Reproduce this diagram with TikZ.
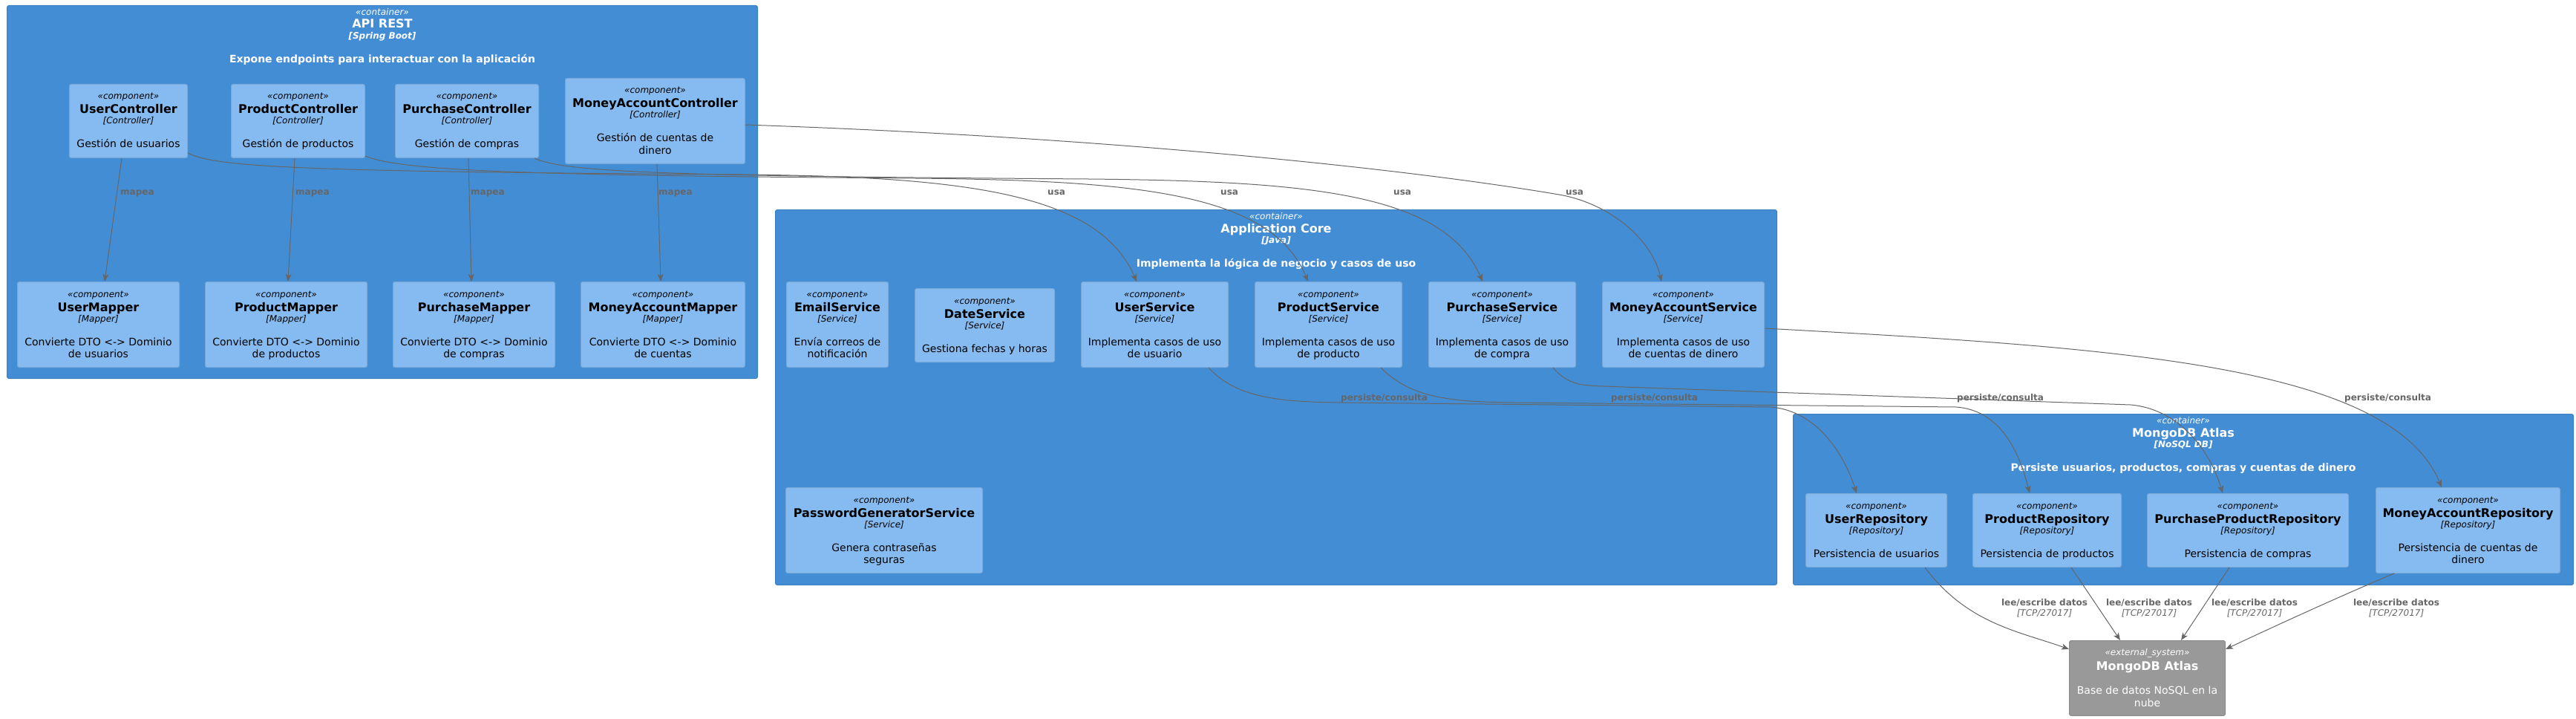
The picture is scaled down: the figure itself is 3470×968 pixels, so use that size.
\documentclass[tikz,border=0pt]{standalone}
\usepackage{fontspec}
\setmainfont{DejaVu Sans}
\usetikzlibrary{arrows.meta,calc}
\definecolor{contfill}{HTML}{438DD5}
\definecolor{contdraw}{HTML}{3C7FC0}
\definecolor{compfill}{HTML}{85BBF0}
\definecolor{compdraw}{HTML}{78A8D8}
\definecolor{extfill}{HTML}{999999}
\definecolor{extdraw}{HTML}{8A8A8A}
\definecolor{relc}{HTML}{666666}
\tikzset{
 box/.style={draw, rounded corners=2.5pt, inner sep=0pt, anchor=north west, line width=1pt},
 contbox/.style={box, fill=contfill, draw=contdraw},
 compbox/.style={box, fill=compfill, draw=compdraw},
 extbox/.style={box, fill=extfill, draw=extdraw},
 txt/.style={inner sep=0pt, anchor=base},
 fstereo/.style={txt, font=\fontsize{12}{14}\selectfont\itshape},
 fname/.style={txt, font=\fontsize{16}{19}\selectfont\bfseries},
 ftech/.style={txt, font=\fontsize{12}{14}\selectfont\itshape},
 fdesc/.style={txt, font=\fontsize{14}{16}\selectfont},
 cstereo/.style={fstereo, text=white},
 cname/.style={fname, text=white},
 ctech/.style={txt, font=\fontsize{12}{14}\selectfont\bfseries\itshape, text=white},
 cdesc/.style={txt, font=\fontsize{14}{16}\selectfont\bfseries, text=white},
 rel/.style={draw=relc, line width=1pt, -{Stealth[length=10pt,width=8pt,inset=2.5pt]}},
 rlabel/.style={txt, text=relc, font=\fontsize{12}{14}\selectfont\bfseries},
 rtech/.style={txt, text=relc, font=\fontsize{12}{14}\selectfont\itshape},
}
% name, x, y, w, h, title, tech, desc1, desc2
\newcommand\compo[9]{%
 \node[compbox, minimum width=#4pt, minimum height=#5pt] (#1) at (#2,#3) {};
 \node[fstereo] (#1s) at ($(#1.north)+(0,21)$) {«component»};
 \node[fname] (#1n) at ($(#1.north)+(0,40)$) {#6};
 \node[ftech] (#1t) at ($(#1.north)+(0,54)$) {[#7]};
 \node[fdesc] (#1d) at ($(#1.north)+(0,86)$) {#8};
 \if\relax\detokenize{#9}\relax\else
 \node[fdesc] (#1e) at ($(#1.north)+(0,102.5)$) {#9};\fi
}
% name, x, y, w, h, title, tech, desc
\newcommand\contr[8]{%
 \node[contbox, minimum width=#4pt, minimum height=#5pt] (#1) at (#2,#3) {};
 \node[cstereo] (#1s) at ($(#1.north)+(0,13.5)$) {«container»};
 \node[cname] (#1n) at ($(#1.north)+(0,31)$) {#6};
 \node[ctech] (#1t) at ($(#1.north)+(0,45.5)$) {[#7]};
 \node[cdesc] (#1d) at ($(#1.north)+(0,77.5)$) {#8};
}
\begin{document}
\begin{tikzpicture}[x=1pt,y=-1pt]
\useasboundingbox (0,0) rectangle (3470,968);
% containers
\contr{api}{9}{7}{1011}{502}{API REST}{Spring Boot}{Expone endpoints para interactuar con la aplicación}
\contr{core}{1044}{282}{1349}{505}{Application Core}{Java}{Implementa la lógica de negocio y casos de uso}
\contr{mongo}{2415}{557}{1051}{230}{MongoDB Atlas}{NoSQL DB}{Persiste usuarios, productos, compras y cuentas de dinero}
% controllers
\compo{uc}{93}{113}{159}{99}{UserController}{Controller}{Gestión de usuarios}{}
\compo{pc}{311}{113}{180}{99}{ProductController}{Controller}{Gestión de productos}{}
\compo{puc}{532}{113}{193}{99}{PurchaseController}{Controller}{Gestión de compras}{}
\compo{mac}{761}{105}{242}{115}{MoneyAccountController}{Controller}{Gestión de cuentas de}{dinero}
% mappers
\compo{um}{23}{379}{218}{115}{UserMapper}{Mapper}{Convierte DTO <-> Dominio}{de usuarios}
\compo{pm}{276}{379}{218}{115}{ProductMapper}{Mapper}{Convierte DTO <-> Dominio}{de productos}
\compo{pum}{529}{379}{218}{115}{PurchaseMapper}{Mapper}{Convierte DTO <-> Dominio}{de compras}
\compo{mam}{782}{379}{221}{115}{MoneyAccountMapper}{Mapper}{Convierte DTO <-> Dominio}{de cuentas}
% services
\compo{es}{1059}{379}{137}{115}{EmailService}{Service}{Envía correos de}{notificación}
\compo{ds}{1232}{388}{188}{99}{DateService}{Service}{Gestiona fechas y horas}{}
\compo{us}{1456}{379}{198}{115}{UserService}{Service}{Implementa casos de uso}{de usuario}
\compo{ps}{1690}{379}{198}{115}{ProductService}{Service}{Implementa casos de uso}{de producto}
\compo{pus}{1924}{379}{198}{115}{PurchaseService}{Service}{Implementa casos de uso}{de compra}
\compo{mas}{2158}{379}{218}{115}{MoneyAccountService}{Service}{Implementa casos de uso}{de cuentas de dinero}
\compo{pgs}{1058}{656}{265}{115}{PasswordGeneratorService}{Service}{Genera contraseñas}{seguras}
% repositories
\compo{ur}{2432}{664}{190}{99}{UserRepository}{Repository}{Persistencia de usuarios}{}
\compo{pr}{2657}{664}{200}{99}{ProductRepository}{Repository}{Persistencia de productos}{}
\compo{ppr}{2892}{664}{271}{99}{PurchaseProductRepository}{Repository}{Persistencia de compras}{}
\compo{mar}{3200}{656}{248}{115}{MoneyAccountRepository}{Repository}{Persistencia de cuentas de}{dinero}
% external system
\node[extbox, minimum width=210pt, minimum height=101pt] (mdb) at (2787,862) {};
\node[cstereo] (mdbs) at ($(mdb.north)+(0,20)$) {«external\_system»};
\node[cname] (mdbn) at ($(mdb.north)+(0,40)$) {MongoDB Atlas};
\node[fdesc, text=white] (mdbd) at ($(mdb.north)+(0,72)$) {Base de datos NoSQL en la};
\node[fdesc, text=white] (mdbe) at ($(mdb.north)+(0,89)$) {nube};
% mapea
\draw[rel] ($(uc.south west)+(71,0)$) -- ($(um.north west)+(118,0)$);
\draw[rel] ($(pc.south west)+(86,0)$) -- ($(pm.north west)+(112,0)$);
\draw[rel] ($(puc.south west)+(99,0)$) -- ($(pum.north west)+(106,0)$);
\draw[rel] ($(mac.south west)+(124,0)$) -- ($(mam.north west)+(108,0)$);
\node[rlabel, anchor=base west] (lm1) at (162,263) {mapea};
\node[rlabel, anchor=base west] (lm2) at (398,263) {mapea};
\node[rlabel, anchor=base west] (lm3) at (634,263) {mapea};
\node[rlabel, anchor=base west] (lm4) at (887,263) {mapea};
% usa
\draw[rel] ($(uc.north east)+(0,93)$) .. controls (290,225) and (400,231) .. (1000,235) .. controls (1300,238) and (1480,260) .. ($(us.north west)+(75,0)$);
\draw[rel] ($(pc.south east)+(0,-3)$) .. controls (540,230) and (700,236) .. (1233,240) .. controls (1533,243) and (1713,260) .. ($(ps.north west)+(72,0)$);
\draw[rel] ($(puc.south east)+(-6,0)$) .. controls (760,232) and (900,237) .. (1466,241) .. controls (1766,244) and (1946,260) .. ($(pus.north west)+(73,0)$);
\draw[rel] ($(mac.north east)+(0,63)$) .. controls (1500,185) and (1900,228) .. (2100,262) .. controls (2165,273) and (2225,320) .. ($(mas.north west)+(80,0)$);
\node[rlabel, anchor=base west] (lu1) at (1411,263) {usa};
\node[rlabel, anchor=base west] (lu2) at (1644,263) {usa};
\node[rlabel, anchor=base west] (lu3) at (1877,263) {usa};
\node[rlabel, anchor=base west] (lu4) at (2109,263) {usa};
% persiste/consulta
\draw[rel] ($(us.south west)+(172,0)$) .. controls (1665,535) and (1720,541) .. (1806,542) -- (2385,548) .. controls (2440,552) and (2480,600) .. ($(ur.north west)+(69,0)$);
\draw[rel] ($(ps.south west)+(170,0)$) .. controls (1900,535) and (1950,541) .. (2040,542) -- (2635,548) .. controls (2690,552) and (2718,600) .. ($(pr.north west)+(77,0)$);
\draw[rel] ($(pus.south west)+(168,0)$) .. controls (2112,518) and (2130,519) .. (2160,520) -- (2870,545) .. controls (2930,550) and (2975,600) .. ($(ppr.north west)+(102,0)$);
\draw[rel] ($(mas.north east)+(0,63)$) .. controls (2850,468) and (3220,490) .. ($(mar.north west)+(89,0)$);
\node[rlabel, anchor=base west] (lp1) at (1806,539) {persiste/consulta};
\node[rlabel, anchor=base west] (lp2) at (2170,539) {persiste/consulta};
\node[rlabel, anchor=base west] (lp3) at (2636,539) {persiste/consulta};
\node[rlabel, anchor=base west] (lp4) at (3158,539) {persiste/consulta};
% lee/escribe datos
\draw[rel] ($(ur.south west)+(161,0)$) .. controls (2650,840) and (2720,850) .. ($(mdb.north west)+(0,12)$);
\draw[rel] ($(pr.south west)+(133,0)$) -- ($(mdb.north west)+(69,0)$);
\draw[rel] ($(ppr.south west)+(111,0)$) -- ($(mdb.north west)+(151,0)$);
\draw[rel] ($(mar.south west)+(25,0)$) .. controls (3140,808) and (3060,845) .. ($(mdb.north east)+(0,12)$);
\node[rlabel] (ll1) at (2754,815) {lee/escribe datos};
\node[rtech] (lt1) at (2754,829) {[TCP/27017]};
\node[rlabel] (ll2) at (2895,815) {lee/escribe datos};
\node[rtech] (lt2) at (2895,829) {[TCP/27017]};
\node[rlabel] (ll3) at (3037,815) {lee/escribe datos};
\node[rtech] (lt3) at (3037,829) {[TCP/27017]};
\node[rlabel] (ll4) at (3228,815) {lee/escribe datos};
\node[rtech] (lt4) at (3228,829) {[TCP/27017]};
\end{tikzpicture}
\end{document}
